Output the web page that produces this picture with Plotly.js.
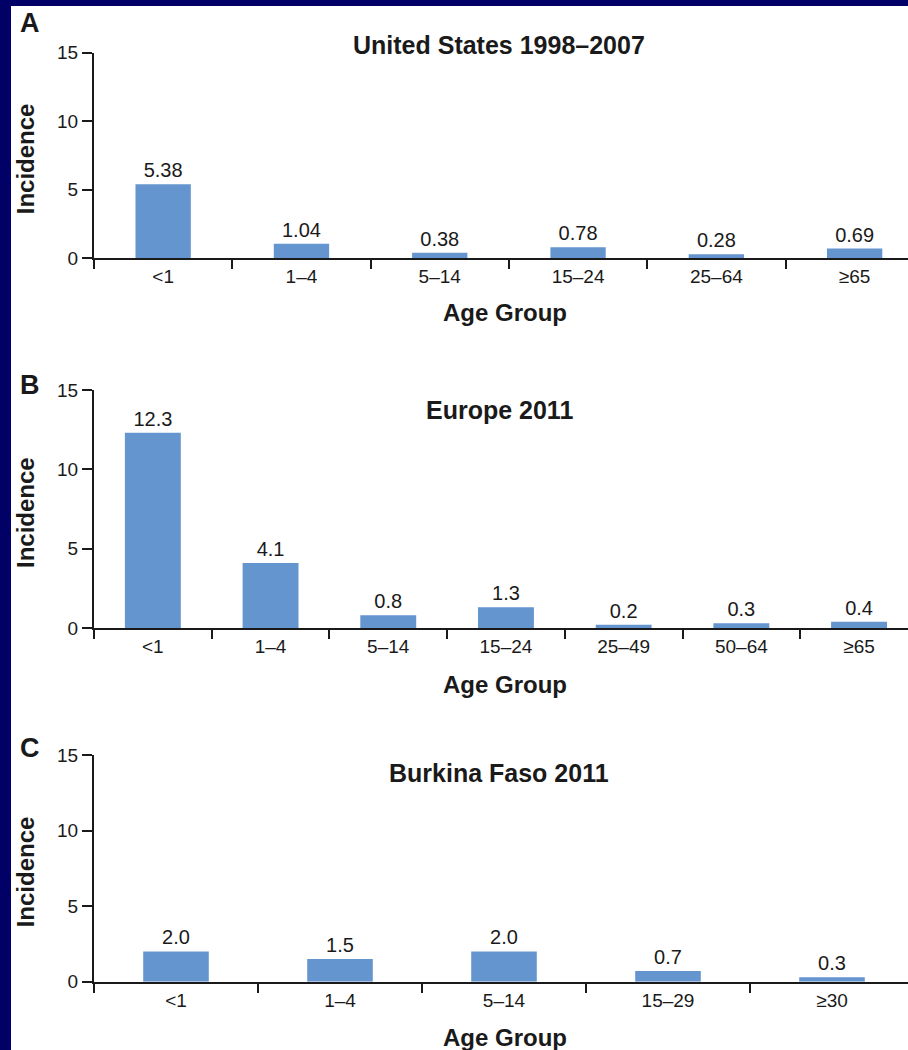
<!DOCTYPE html>
<html>
<head>
<meta charset="utf-8">
<script src="https://cdn.plot.ly/plotly-3.0.1.min.js"></script>
<style>html,body{margin:0;padding:0;background:#000066;}#chart{width:908px;height:1050px;}</style>
</head>
<body>
<div id="chart"></div>
<script>
// Data
const usCategories = ["<1", "1\u20134", "5\u201314", "15\u201324", "25\u201364", "\u226565"];
const usValues = [5.38, 1.04, 0.38, 0.78, 0.28, 0.69];
const euCategories = ["<1", "1\u20134", "5\u201314", "15\u201324", "25\u201349", "50\u201364", "\u226565"];
const euValues = [12.3, 4.1, 0.8, 1.3, 0.2, 0.3, 0.4];
const bfCategories = ["<1", "1\u20134", "5\u201314", "15\u201329", "\u226530"];
const bfValues = [2.0, 1.5, 2.0, 0.7, 0.3];
const panelTitles = ["United States 1998\u20132007", "Europe 2011", "Burkina Faso 2011"];
const panelLetters = ["A", "B", "C"];
const yTickValues = [0, 5, 10, 15];

const W = 908, H = 1050;
const FONT = "Liberation Sans, Arial, Helvetica, sans-serif";
const BAR = "#6595cf";
const INK = "#1a1a1a";
const px = x => x / W;
const py = y => 1 - y / H;

function barTrace(cats, vals, digits, xa, ya, width) {
  return {
    type: "bar", x: cats, y: vals, xaxis: xa, yaxis: ya,
    width: width,
    marker: {color: BAR, line: {width: 0}},
    text: vals.map(v => v.toFixed(digits)),
    textposition: "outside", cliponaxis: false,
    textfont: {family: FONT, size: 20, color: INK},
    hoverinfo: "x+y", showlegend: false
  };
}

const data = [
  barTrace(usCategories, usValues, 2, "x", "y", 0.40),
  barTrace(euCategories, euValues, 1, "x2", "y2", 0.475),
  barTrace(bfCategories, bfValues, 1, "x3", "y3", 0.40)
];

function xAxis(anchor, rangeEnd) {
  return {
    anchor: anchor, domain: [px(94), 1], type: "category",
    range: [-0.5, rangeEnd], showline: true, linecolor: INK, linewidth: 2,
    ticks: "outside", tickson: "boundaries", ticklen: 9, tickwidth: 2, tickcolor: INK,
    showgrid: false, zeroline: false, fixedrange: true,
    tickfont: {family: FONT, size: 19, color: INK}, automargin: false
  };
}
function yAxis(anchor, top, bottom) {
  return {
    anchor: anchor, domain: [py(bottom), py(top)], range: [0, 15],
    tickvals: yTickValues, showline: true, linecolor: INK, linewidth: 2,
    ticks: "outside", ticklen: 10, tickwidth: 2, tickcolor: INK,
    showgrid: false, zeroline: false, fixedrange: true,
    tickfont: {family: FONT, size: 19, color: INK}, automargin: false
  };
}

const panels = [
  {top: 52.5, bottom: 258, titleY: 45, letterY: 23, xtitleY: 312},
  {top: 390, bottom: 628, titleY: 410, letterY: 385, xtitleY: 684},
  {top: 755, bottom: 981.7, titleY: 773, letterY: 748, xtitleY: 1037}
];

const annotations = [];
panels.forEach((p, i) => {
  annotations.push({xref: "paper", yref: "paper", x: px(30), y: py(p.letterY), text: "<b>" + panelLetters[i] + "</b>",
    showarrow: false, xanchor: "center", yanchor: "middle", font: {family: FONT, size: 27, color: INK}});
  annotations.push({xref: "paper", yref: "paper", x: px(499), y: py(p.titleY), text: "<b>" + panelTitles[i] + "</b>",
    showarrow: false, xanchor: "center", yanchor: "middle", font: {family: FONT, size: 25, color: INK}});
  annotations.push({xref: "paper", yref: "paper", x: px(505), y: py(p.xtitleY), text: "<b>Age Group</b>",
    showarrow: false, xanchor: "center", yanchor: "middle", font: {family: FONT, size: 24, color: INK}});
  annotations.push({xref: "paper", yref: "paper", x: px(25), y: py((p.top + p.bottom) / 2 + 4), text: "<b>Incidence</b>",
    textangle: -90, showarrow: false, xanchor: "center", yanchor: "middle", font: {family: FONT, size: 24, color: INK}});
});

const layout = {
  width: W, height: H,
  margin: {l: 0, r: 0, t: 0, b: 0, pad: 0},
  paper_bgcolor: "#000066", plot_bgcolor: "rgba(0,0,0,0)",
  font: {family: FONT, color: INK},
  showlegend: false, bargap: 0.6,
  xaxis: xAxis("y", -0.5 + 814 / 138.3),
  yaxis: yAxis("x", panels[0].top, panels[0].bottom),
  xaxis2: xAxis("y2", -0.5 + 814 / 117.7),
  yaxis2: yAxis("x2", panels[1].top, panels[1].bottom),
  xaxis3: xAxis("y3", -0.5 + 814 / 164),
  yaxis3: yAxis("x3", panels[2].top, panels[2].bottom),
  shapes: [{type: "rect", xref: "paper", yref: "paper", x0: px(11), x1: 1.01, y0: -0.01, y1: py(6),
    fillcolor: "#ffffff", line: {width: 0}, layer: "below"}],
  annotations: annotations
};

Plotly.newPlot("chart", data, layout, {displayModeBar: false, staticPlot: true});
</script>
</body>
</html>
